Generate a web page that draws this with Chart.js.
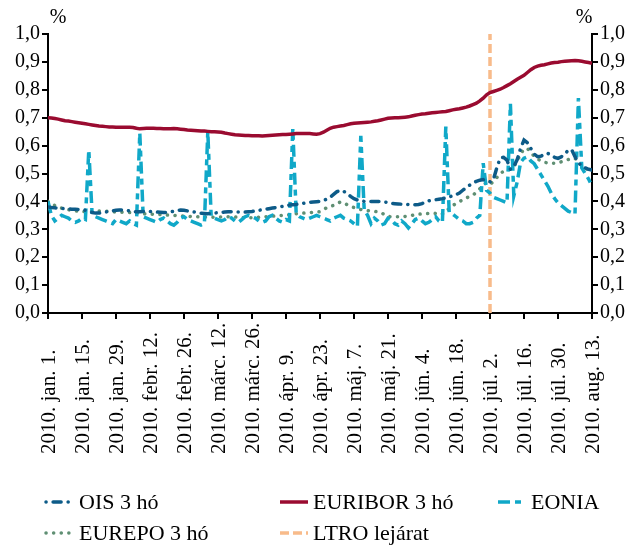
<!DOCTYPE html>
<html>
<head>
<meta charset="utf-8">
<script src="https://cdn.jsdelivr.net/npm/chart.js@4.4.1/dist/chart.umd.min.js"></script>
<style>
  html, body { margin: 0; padding: 0; background: #fff; }
  #wrap { width: 638px; height: 545px; }
</style>
</head>
<body>
<div id="wrap"><canvas id="chart" width="638" height="545"></canvas></div>
<script>
// tick labels, one per 10 business days (index 0 = 2010. jan. 1.)
const tickLabels = [
  '2010. jan. 1.', '2010. jan. 15.', '2010. jan. 29.', '2010. febr. 12.', '2010. febr. 26.',
  '2010. márc. 12.', '2010. márc. 26.', '2010. ápr. 9.', '2010. ápr. 23.', '2010. máj. 7.',
  '2010. máj. 21.', '2010. jún. 4.', '2010. jún. 18.', '2010. júl. 2.', '2010. júl. 16.',
  '2010. júl. 30.', '2010. aug. 13.'
];

// daily values, %
const ois3 = [
  0.380,0.378,0.377,0.376,0.375,0.374,0.373,0.372,0.372,0.371,0.370,
  0.368,0.365,0.360,0.358,0.358,0.360,0.362,0.364,0.366,0.368,
  0.369,0.369,0.368,0.366,0.364,0.363,0.363,0.364,0.365,0.364,
  0.363,0.362,0.361,0.360,0.360,0.362,0.365,0.368,0.369,0.368,
  0.366,0.364,0.362,0.360,0.358,0.357,0.356,0.357,0.358,0.360,
  0.361,0.362,0.363,0.363,0.362,0.362,0.362,0.362,0.363,0.364,
  0.366,0.368,0.370,0.372,0.374,0.376,0.378,0.380,0.382,0.385,
  0.387,0.388,0.389,0.391,0.393,0.395,0.397,0.398,0.399,0.400,
  0.403,0.408,0.415,0.425,0.435,0.440,0.436,0.428,0.418,0.410,
  0.405,0.402,0.400,0.400,0.400,0.400,0.400,0.400,0.398,0.396,
  0.393,0.392,0.391,0.390,0.390,0.389,0.388,0.388,0.389,0.392,
  0.398,0.402,0.404,0.406,0.408,0.410,0.413,0.416,0.420,0.424,
  0.430,0.440,0.450,0.458,0.466,0.472,0.476,0.478,0.472,0.470,
  0.478,0.520,0.555,0.558,0.548,0.515,0.525,0.550,0.590,0.620,
  0.610,0.590,0.570,0.560,0.562,0.570,0.572,0.566,0.558,0.554,
  0.560,0.572,0.582,0.586,0.560,0.540,0.525,0.520,0.515,0.512
];
const euribor3 = [
  0.700,0.699,0.697,0.695,0.692,0.689,0.688,0.686,0.684,0.682,0.680,
  0.678,0.676,0.674,0.672,0.670,0.669,0.668,0.667,0.667,0.666,
  0.666,0.666,0.666,0.666,0.665,0.662,0.660,0.661,0.662,0.662,
  0.662,0.661,0.661,0.660,0.660,0.660,0.661,0.660,0.659,0.658,
  0.656,0.655,0.654,0.653,0.652,0.652,0.651,0.650,0.650,0.649,
  0.648,0.645,0.643,0.641,0.639,0.638,0.637,0.636,0.636,0.635,
  0.635,0.635,0.634,0.635,0.636,0.637,0.638,0.639,0.640,0.640,
  0.641,0.642,0.643,0.643,0.643,0.643,0.643,0.642,0.641,0.643,
  0.648,0.655,0.662,0.666,0.668,0.670,0.672,0.675,0.678,0.680,
  0.681,0.682,0.683,0.684,0.685,0.687,0.689,0.692,0.695,0.698,
  0.699,0.700,0.700,0.701,0.702,0.703,0.706,0.709,0.711,0.713,
  0.714,0.716,0.718,0.719,0.720,0.721,0.722,0.725,0.728,0.730,
  0.732,0.735,0.738,0.742,0.747,0.752,0.760,0.770,0.782,0.790,
  0.794,0.798,0.802,0.808,0.815,0.822,0.830,0.838,0.845,0.852,
  0.862,0.872,0.880,0.885,0.888,0.890,0.893,0.896,0.898,0.899,
  0.901,0.902,0.903,0.904,0.905,0.904,0.902,0.900,0.898,0.895
];
const eonia = [
  0.400,0.350,0.330,0.340,0.350,0.345,0.340,0.330,0.325,0.330,0.340,
  0.335,0.585,0.350,0.345,0.340,0.335,0.330,0.325,0.320,0.335,
  0.330,0.325,0.320,0.330,0.320,0.315,0.645,0.345,0.340,0.335,
  0.330,0.325,0.335,0.340,0.330,0.320,0.315,0.325,0.340,0.345,
  0.335,0.330,0.325,0.320,0.315,0.320,0.650,0.345,0.340,0.335,
  0.330,0.335,0.345,0.340,0.330,0.325,0.335,0.345,0.350,0.345,
  0.340,0.330,0.325,0.330,0.345,0.350,0.340,0.330,0.325,0.335,
  0.330,0.660,0.355,0.345,0.340,0.335,0.340,0.345,0.350,0.345,
  0.340,0.335,0.330,0.340,0.345,0.350,0.340,0.335,0.330,0.320,
  0.310,0.635,0.370,0.350,0.320,0.340,0.330,0.315,0.320,0.340,
  0.335,0.320,0.315,0.330,0.320,0.305,0.320,0.335,0.340,0.330,
  0.320,0.325,0.335,0.345,0.330,0.325,0.668,0.360,0.355,0.345,
  0.335,0.330,0.320,0.320,0.325,0.340,0.350,0.537,0.440,0.430,
  0.415,0.410,0.405,0.400,0.395,0.750,0.420,0.470,0.540,0.555,
  0.560,0.545,0.535,0.515,0.495,0.475,0.455,0.430,0.410,0.395,
  0.385,0.375,0.365,0.360,0.355,0.770,0.520,0.500,0.480,0.455
];
const eurepo3 = [
  0.400,0.392,0.385,0.380,0.376,0.373,0.370,0.368,0.366,0.365,0.364,
  0.363,0.363,0.364,0.365,0.366,0.366,0.365,0.364,0.363,0.362,
  0.362,0.361,0.360,0.360,0.359,0.358,0.357,0.356,0.355,0.355,
  0.354,0.354,0.353,0.352,0.351,0.350,0.350,0.349,0.348,0.348,
  0.347,0.346,0.345,0.345,0.344,0.344,0.343,0.343,0.343,0.344,
  0.344,0.344,0.345,0.345,0.344,0.343,0.342,0.342,0.341,0.341,
  0.342,0.343,0.344,0.345,0.346,0.347,0.348,0.349,0.350,0.351,
  0.352,0.354,0.356,0.357,0.358,0.359,0.360,0.361,0.362,0.363,
  0.370,0.378,0.382,0.386,0.392,0.398,0.395,0.388,0.382,0.378,
  0.374,0.371,0.369,0.367,0.365,0.364,0.363,0.360,0.352,0.346,
  0.345,0.345,0.345,0.345,0.346,0.348,0.350,0.352,0.354,0.355,
  0.356,0.357,0.358,0.357,0.352,0.355,0.362,0.375,0.385,0.392,
  0.400,0.405,0.412,0.418,0.423,0.432,0.445,0.458,0.468,0.462,
  0.470,0.485,0.500,0.508,0.515,0.520,0.524,0.545,0.570,0.588,
  0.590,0.575,0.562,0.552,0.545,0.540,0.538,0.537,0.537,0.538,
  0.542,0.546,0.550,0.554,0.554,0.545,0.530,0.520,0.512,0.498
];
// LTRO maturity: day index of 2010. júl. 2.
const ltroDay = 130;

(function() {
  const FONT = '"Liberation Serif", "Times New Roman", serif';
  Chart.defaults.font.family = FONT;
  Chart.defaults.color = '#000';

  const pts = arr => arr.map((v, i) => ({ x: i, y: v }));

  const datasets = [
    { label: 'OIS 3 hó', data: pts(ois3), borderColor: '#0d5b88', borderWidth: 3.5,
      borderDash: [8, 7, 0.1, 7], borderCapStyle: 'round', legendDashOffset: 15 },
    { label: 'EURIBOR 3 hó', data: pts(euribor3), borderColor: '#9a0b30', borderWidth: 3.5 },
    { label: 'EONIA', data: pts(eonia), borderColor: '#10a8c8', borderWidth: 3.5,
      borderDash: [12, 5, 6, 5] },
    { label: 'EUREPO 3 hó', data: pts(eurepo3), borderColor: '#5f8f73', borderWidth: 3.5,
      borderDash: [0.1, 7.5], borderCapStyle: 'round' },
    { label: 'LTRO lejárat', data: [{ x: ltroDay, y: 0 }, { x: ltroDay, y: 1 }],
      borderColor: '#f8bb8a', borderWidth: 3.5, borderDash: [9, 4] }
  ];
  datasets.forEach(d => { d.pointRadius = 0; d.tension = 0; d.fill = false; });

  const axisGrid = { display: true, drawOnChartArea: false, drawTicks: true, tickLength: 6,
    color: '#000', lineWidth: 2 };
  const axisBorder = { display: true, color: '#000', width: 2 };
  const pct = v => v.toFixed(1).replace('.', ',');

  // legend layout under the chart
  const legendItems = [
    { i: 0, x: 44, y: 502 }, { i: 1, x: 278, y: 502 }, { i: 2, x: 496, y: 502 },
    { i: 3, x: 44, y: 533 }, { i: 4, x: 278, y: 533 }
  ];

  const extras = {
    id: 'extras',
    afterDraw(chart) {
      const ctx = chart.ctx;
      const area = chart.chartArea;
      const xs = chart.scales.x;
      ctx.save();
      ctx.fillStyle = '#000';
      ctx.font = '20px ' + FONT;
      ctx.textAlign = 'center';
      ctx.textBaseline = 'alphabetic';
      ctx.fillText('%', area.left + 10, area.top - 11);
      ctx.fillText('%', area.right - 8, area.top - 11);

      // rotated date labels, aligned at their start (bottom)
      ctx.font = '21px ' + FONT;
      ctx.textAlign = 'left';
      ctx.textBaseline = 'middle';
      xs.ticks.forEach(t => {
        const label = tickLabels[Math.round(t.value / 10)];
        if (!label) return;
        ctx.save();
        ctx.translate(xs.getPixelForValue(t.value) + 1, 454);
        ctx.rotate(-Math.PI / 2);
        ctx.fillText(label, 0, 0);
        ctx.restore();
      });

      ctx.font = '22px ' + FONT;
      legendItems.forEach(it => {
        const ds = chart.data.datasets[it.i];
        ctx.save();
        ctx.strokeStyle = ds.borderColor;
        ctx.lineWidth = ds.borderWidth;
        ctx.lineCap = ds.borderCapStyle || 'butt';
        ctx.setLineDash(ds.borderDash || []);
        ctx.lineDashOffset = ds.legendDashOffset || 0;
        ctx.beginPath();
        ctx.moveTo(it.x + 2, it.y);
        ctx.lineTo(it.x + 30, it.y);
        ctx.stroke();
        ctx.restore();
        ctx.fillText(ds.label, it.x + 35, it.y + 1);
      });
      ctx.restore();
    }
  };

  new Chart(document.getElementById('chart'), {
    type: 'line',
    data: { datasets },
    options: {
      responsive: false,
      animation: false,
      layout: { padding: { top: 34, bottom: 82, left: 0, right: 0 } },
      plugins: { legend: { display: false }, tooltip: { enabled: false } },
      scales: {
        x: {
          type: 'linear', min: 0, max: 160,
          grid: axisGrid, border: axisBorder,
          afterFit(s) { s.height = 150; },
          ticks: { stepSize: 10, autoSkip: false, display: false }
        },
        y: {
          position: 'left', min: 0, max: 1,
          grid: axisGrid, border: axisBorder,
          afterFit(s) { s.width = 48; },
          ticks: { stepSize: 0.1, padding: 2, font: { size: 20 }, callback: pct }
        },
        y2: {
          position: 'right', min: 0, max: 1,
          grid: axisGrid, border: axisBorder,
          afterFit(s) { s.width = 46; },
          ticks: { stepSize: 0.1, padding: 2, font: { size: 20 }, callback: pct }
        }
      }
    },
    plugins: [extras]
  });
})();
</script>
</body>
</html>
